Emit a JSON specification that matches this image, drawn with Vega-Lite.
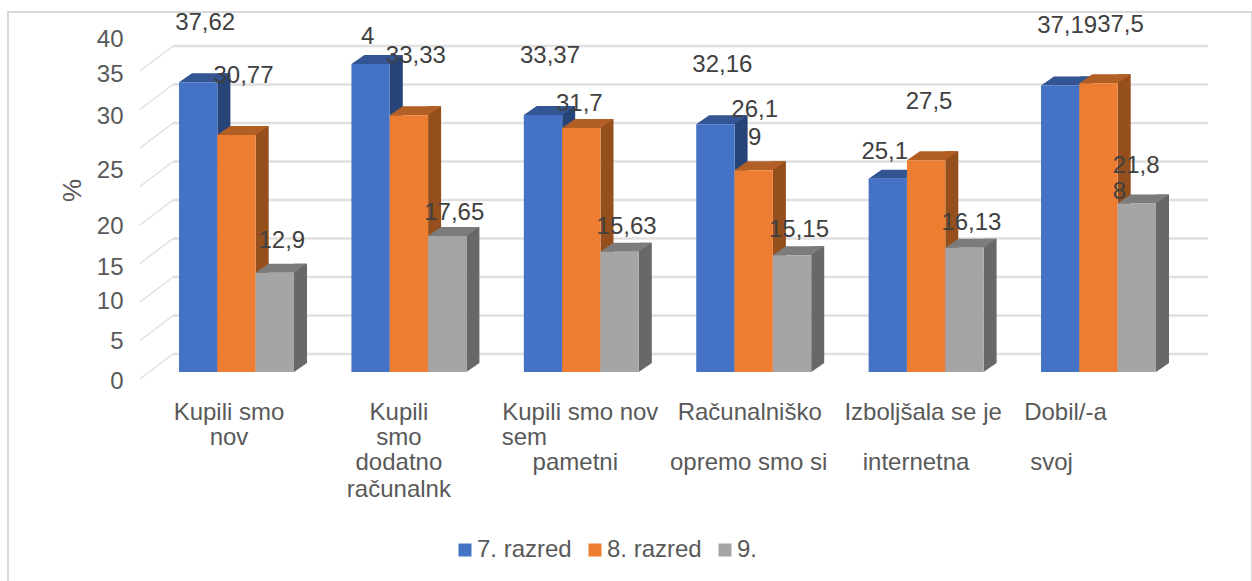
{
"$schema":"https://vega.github.io/schema/vega-lite/v6.json",
"width":1244,"height":571,
"autosize":{"type":"none"},
"padding":{"left":8,"top":12,"right":0,"bottom":0},
"background":"white",
"config":{"font":"Liberation Sans","view":{"stroke":"#d9d9d9","strokeWidth":2},"text":{"font":"Liberation Sans"}},
"datasets":{
"ticks":[{"v":0},{"v":5},{"v":10},{"v":15},{"v":20},{"v":25},{"v":30},{"v":35},{"v":40}],
"bars":[
{"cat":"A","series":"7. razred","value":37.62,"label":"37,62"},
{"cat":"A","series":"8. razred","value":30.77,"label":"30,77"},
{"cat":"A","series":"9.","value":12.9,"label":"12,9"},
{"cat":"B","series":"7. razred","value":40,"label":"4"},
{"cat":"B","series":"8. razred","value":33.33,"label":"33,33"},
{"cat":"B","series":"9.","value":17.65,"label":"17,65"},
{"cat":"C","series":"7. razred","value":33.37,"label":"33,37"},
{"cat":"C","series":"8. razred","value":31.7,"label":"31,7"},
{"cat":"C","series":"9.","value":15.63,"label":"15,63"},
{"cat":"D","series":"7. razred","value":32.16,"label":"32,16"},
{"cat":"D","series":"8. razred","value":26.19,"label":"26,1\n9"},
{"cat":"D","series":"9.","value":15.15,"label":"15,15"},
{"cat":"E","series":"7. razred","value":25.1,"label":"25,1"},
{"cat":"E","series":"8. razred","value":27.5,"label":"27,5"},
{"cat":"E","series":"9.","value":16.13,"label":"16,13"},
{"cat":"F","series":"7. razred","value":37.19,"label":"37,19"},
{"cat":"F","series":"8. razred","value":37.5,"label":"37,5"},
{"cat":"F","series":"9.","value":21.88,"label":"21,8\n8"}
],
"lines":[
{"cat":"A","t":"Kupili smo","value":0},{"cat":"A","t":"nov","value":0},
{"cat":"B","t":"Kupili","value":0},{"cat":"B","t":"smo","value":0},{"cat":"B","t":"dodatno","value":0},{"cat":"B","t":"računalnk","value":0},
{"cat":"C","t":"Kupili smo nov","value":0},{"cat":"C","t":"sem","value":0},{"cat":"C","t":"pametni","value":0},
{"cat":"D","t":"Računalniško","value":0},{"cat":"D","t":"opremo smo si","value":0},
{"cat":"E","t":"Izboljšala se je","value":0},{"cat":"E","t":"internetna","value":0},
{"cat":"F","t":"Dobil/-a","value":0},{"cat":"F","t":"svoj","value":0}
]},
"resolve":{"scale":{"y":"independent","x":"independent"}},
"layer":[
{"data":{"name":"ticks"},
 "encoding":{
  "y":{"field":"v","type":"quantitative","axis":null,"scale":{"domain":[-27.4,46.75],"nice":false,"zero":false}},
  "y2":{"field":"v"}
 },
 "layer":[
 {"mark":{"type":"rule","stroke":"#e0e0e0","strokeWidth":2.5,"yOffset":-18,"y2Offset":-18},
  "encoding":{"x":{"datum":0,"type":"quantitative","axis":null,"scale":{"domain":[0,1],"range":[165,1200],"nice":false,"zero":false}},"x2":{"datum":1}}},
 {"mark":{"type":"rule","stroke":"#e0e0e0","strokeWidth":1.5,"yOffset":7,"y2Offset":-18},
  "encoding":{"x":{"datum":-0.0319,"type":"quantitative","axis":null},"x2":{"datum":0}}}
 ]},
{"data":{"name":"ticks"},
 "mark":{"type":"rule","opacity":0},
 "encoding":{"y":{"field":"v","type":"quantitative",
  "scale":{"domain":[0,5,10,15,20,25,30,35,40],"range":[369,329,289,255,214,158,104,62,27],"nice":false,"zero":false},
  "axis":{"title":"%","offset":-115,"labelPadding":0,"domain":false,"ticks":false,"grid":false,"values":[0,5,10,15,20,25,30,35,40],"labelFontSize":24,"labelColor":"#595959","labelFont":"Liberation Sans","titleFont":"Liberation Sans","titleFontWeight":"normal","titleFontSize":26,"titleColor":"#595959","titleX":-38,"titleY":178,"titleAngle":-90,"labelOverlap":false}}}},
{"data":{"name":"bars"},
 "resolve":{"scale":{"color":"independent","xOffset":"independent"}},
 "encoding":{
  "x":{"field":"cat","type":"nominal","axis":null,"scale":{"type":"band","domain":["A","B","C","D","E","F"],"range":[142.3,1176.7],"paddingInner":0,"paddingOuter":0}},
  "y":{"field":"value","type":"quantitative","axis":null,"scale":{"domain":[-27.4,46.75],"nice":false,"zero":false}}
 },
 "layer":[
 {"mark":{"type":"rule","strokeWidth":13,"yOffset":-9,"y2Offset":-9},
  "encoding":{
   "xOffset":{"field":"series","scale":{"type":"band","domain":["7. razred","8. razred","9."],"range":[25.7,198.1],"paddingOuter":0.75,"paddingInner":0}},
   "y2":{"datum":0},
   "color":{"field":"series","legend":null,"scale":{"domain":["7. razred","8. razred","9."],"range":["#264478","#954f1c","#686868"]}}}},
 {"mark":{"type":"point","filled":true,"strokeWidth":0,"opacity":1,"size":4,"shape":"M19.2,0L19.2,-9L32.2,-9Z"},
  "encoding":{
   "xOffset":{"field":"series","scale":{"type":"band","domain":["7. razred","8. razred","9."],"paddingOuter":0.75,"paddingInner":0}},
   "y":{"datum":0},
   "color":{"field":"series","legend":null,"scale":{"domain":["7. razred","8. razred","9."],"range":["#264478","#954f1c","#686868"]}}}},
 {"mark":{"type":"point","filled":true,"strokeWidth":0,"opacity":1,"size":4,"shape":"M-19.2,0L-6.2,-9L32.2,-9L19.2,0Z"},
  "encoding":{
   "xOffset":{"field":"series","scale":{"type":"band","domain":["7. razred","8. razred","9."],"paddingOuter":0.75,"paddingInner":0}},
   "color":{"field":"series","legend":null,"scale":{"domain":["7. razred","8. razred","9."],"range":["#335593","#b25f25","#7c7c7c"]}}}},
 {"mark":{"type":"bar"},
  "encoding":{
   "xOffset":{"field":"series","scale":{"type":"band","domain":["7. razred","8. razred","9."],"paddingOuter":0.75,"paddingInner":0}},
   "y2":{"datum":0},
   "color":{"field":"series","title":null,"scale":{"domain":["7. razred","8. razred","9."],"range":["#4472c4","#ed7d31","#a5a5a5"]},
    "legend":{"orient":"none","legendX":445,"legendY":526,"direction":"horizontal","symbolType":"square","symbolSize":169,"symbolStrokeWidth":0,"labelFontSize":24,"labelColor":"#595959","labelFont":"Liberation Sans","labelOffset":0,"columnPadding":11}}}},
 {"transform":[{"filter":{"field":"label","oneOf":["37,62","30,77","33,33","33,37","32,16","37,19"]}}],
  "mark":{"type":"text","fontSize":24,"fill":"#404040","baseline":"middle","dx":7,"dy":-59.5},
  "encoding":{"xOffset":{"field":"series","scale":{"type":"band","domain":["7. razred","8. razred","9."],"paddingOuter":0.75,"paddingInner":0}},"text":{"field":"label"}}},
 {"transform":[{"filter":{"field":"label","oneOf":["15,63","15,15","16,13"]}}],
  "mark":{"type":"text","fontSize":24,"fill":"#404040","baseline":"middle","dx":7,"dy":-25},
  "encoding":{"xOffset":{"field":"series","scale":{"type":"band","domain":["7. razred","8. razred","9."],"paddingOuter":0.75,"paddingInner":0}},"text":{"field":"label"}}},
 {"transform":[{"filter":{"field":"label","equal":"17,65"}}],
  "mark":{"type":"text","fontSize":24,"fill":"#404040","baseline":"middle","dx":7,"dy":-23.5},
  "encoding":{"xOffset":{"field":"series","scale":{"type":"band","domain":["7. razred","8. razred","9."],"paddingOuter":0.75,"paddingInner":0}},"text":{"field":"label"}}},
 {"transform":[{"filter":{"field":"label","equal":"12,9"}}],
  "mark":{"type":"text","fontSize":24,"fill":"#404040","baseline":"middle","dx":7,"dy":-32},
  "encoding":{"xOffset":{"field":"series","scale":{"type":"band","domain":["7. razred","8. razred","9."],"paddingOuter":0.75,"paddingInner":0}},"text":{"field":"label"}}},
 {"transform":[{"filter":{"field":"label","oneOf":["4","25,1"]}}],
  "mark":{"type":"text","fontSize":24,"fill":"#404040","baseline":"middle","dx":-3,"dy":-27},
  "encoding":{"xOffset":{"field":"series","scale":{"type":"band","domain":["7. razred","8. razred","9."],"paddingOuter":0.75,"paddingInner":0}},"text":{"field":"label"}}},
 {"transform":[{"filter":{"field":"label","equal":"31,7"}}],
  "mark":{"type":"text","fontSize":24,"fill":"#404040","baseline":"middle","dx":-2,"dy":-24},
  "encoding":{"xOffset":{"field":"series","scale":{"type":"band","domain":["7. razred","8. razred","9."],"paddingOuter":0.75,"paddingInner":0}},"text":{"field":"label"}}},
 {"transform":[{"filter":{"field":"label","equal":"27,5"}}],
  "mark":{"type":"text","fontSize":24,"fill":"#404040","baseline":"middle","dx":3,"dy":-58},
  "encoding":{"xOffset":{"field":"series","scale":{"type":"band","domain":["7. razred","8. razred","9."],"paddingOuter":0.75,"paddingInner":0}},"text":{"field":"label"}}},
 {"transform":[{"filter":{"field":"label","equal":"37,5"}}],
  "mark":{"type":"text","fontSize":24,"fill":"#404040","baseline":"middle","dx":22,"dy":-58},
  "encoding":{"xOffset":{"field":"series","scale":{"type":"band","domain":["7. razred","8. razred","9."],"paddingOuter":0.75,"paddingInner":0}},"text":{"field":"label"}}},
 {"transform":[{"filter":{"field":"label","equal":"26,1\n9"}}],
  "mark":{"type":"text","fontSize":24,"fill":"#404040","baseline":"middle","lineBreak":"\n","lineHeight":28,"align":"center","dx":1,"dy":-60},
  "encoding":{"xOffset":{"field":"series","scale":{"type":"band","domain":["7. razred","8. razred","9."],"paddingOuter":0.75,"paddingInner":0}},"text":{"field":"label"}}},
 {"transform":[{"filter":{"field":"label","equal":"21,8\n8"}}],
  "mark":{"type":"text","fontSize":24,"fill":"#404040","baseline":"middle","lineBreak":"\n","lineHeight":26,"align":"left","dx":-24,"dy":-38},
  "encoding":{"xOffset":{"field":"series","scale":{"type":"band","domain":["7. razred","8. razred","9."],"paddingOuter":0.75,"paddingInner":0}},"text":{"field":"label"}}},
 {"data":{"name":"lines"},"transform":[{"filter":{"field":"t","oneOf":["Kupili smo"]}}],"mark":{"type":"text","fontSize":24,"fill":"#595959","baseline":"middle","dx":-7.5,"dy":41},"encoding":{"text":{"field":"t"}}},
 {"data":{"name":"lines"},"transform":[{"filter":{"field":"t","oneOf":["nov"]}}],"mark":{"type":"text","fontSize":24,"fill":"#595959","baseline":"middle","dx":-7.5,"dy":66},"encoding":{"text":{"field":"t"}}},
 {"data":{"name":"lines"},"transform":[{"filter":{"field":"t","oneOf":["Kupili"]}}],"mark":{"type":"text","fontSize":24,"fill":"#595959","baseline":"middle","dx":-10,"dy":41},"encoding":{"text":{"field":"t"}}},
 {"data":{"name":"lines"},"transform":[{"filter":{"field":"t","oneOf":["smo"]}}],"mark":{"type":"text","fontSize":24,"fill":"#595959","baseline":"middle","dx":-10,"dy":66},"encoding":{"text":{"field":"t"}}},
 {"data":{"name":"lines"},"transform":[{"filter":{"field":"t","oneOf":["dodatno"]}}],"mark":{"type":"text","fontSize":24,"fill":"#595959","baseline":"middle","dx":-10,"dy":91},"encoding":{"text":{"field":"t"}}},
 {"data":{"name":"lines"},"transform":[{"filter":{"field":"t","oneOf":["računalnk"]}}],"mark":{"type":"text","fontSize":24,"fill":"#595959","baseline":"middle","dx":-10,"dy":118},"encoding":{"text":{"field":"t"}}},
 {"data":{"name":"lines"},"transform":[{"filter":{"field":"t","oneOf":["Kupili smo nov"]}}],"mark":{"type":"text","fontSize":24,"fill":"#595959","baseline":"middle","dx":-1,"dy":41},"encoding":{"text":{"field":"t"}}},
 {"data":{"name":"lines"},"transform":[{"filter":{"field":"t","oneOf":["sem"]}}],"mark":{"type":"text","fontSize":24,"fill":"#595959","baseline":"middle","dx":-57,"dy":66},"encoding":{"text":{"field":"t"}}},
 {"data":{"name":"lines"},"transform":[{"filter":{"field":"t","oneOf":["pametni"]}}],"mark":{"type":"text","fontSize":24,"fill":"#595959","baseline":"middle","dx":-6,"dy":91},"encoding":{"text":{"field":"t"}}},
 {"data":{"name":"lines"},"transform":[{"filter":{"field":"t","oneOf":["Računalniško"]}}],"mark":{"type":"text","fontSize":24,"fill":"#595959","baseline":"middle","dx":-4,"dy":41},"encoding":{"text":{"field":"t"}}},
 {"data":{"name":"lines"},"transform":[{"filter":{"field":"t","oneOf":["opremo smo si"]}}],"mark":{"type":"text","fontSize":24,"fill":"#595959","baseline":"middle","dx":-5,"dy":91},"encoding":{"text":{"field":"t"}}},
 {"data":{"name":"lines"},"transform":[{"filter":{"field":"t","oneOf":["Izboljšala se je"]}}],"mark":{"type":"text","fontSize":24,"fill":"#595959","baseline":"middle","dx":-3,"dy":41},"encoding":{"text":{"field":"t"}}},
 {"data":{"name":"lines"},"transform":[{"filter":{"field":"t","oneOf":["internetna"]}}],"mark":{"type":"text","fontSize":24,"fill":"#595959","baseline":"middle","dx":-10,"dy":91},"encoding":{"text":{"field":"t"}}},
 {"data":{"name":"lines"},"transform":[{"filter":{"field":"t","oneOf":["Dobil/-a"]}}],"mark":{"type":"text","fontSize":24,"fill":"#595959","baseline":"middle","dx":-33,"dy":41},"encoding":{"text":{"field":"t"}}},
 {"data":{"name":"lines"},"transform":[{"filter":{"field":"t","oneOf":["svoj"]}}],"mark":{"type":"text","fontSize":24,"fill":"#595959","baseline":"middle","dx":-47,"dy":91},"encoding":{"text":{"field":"t"}}}
 ]}
]
}
